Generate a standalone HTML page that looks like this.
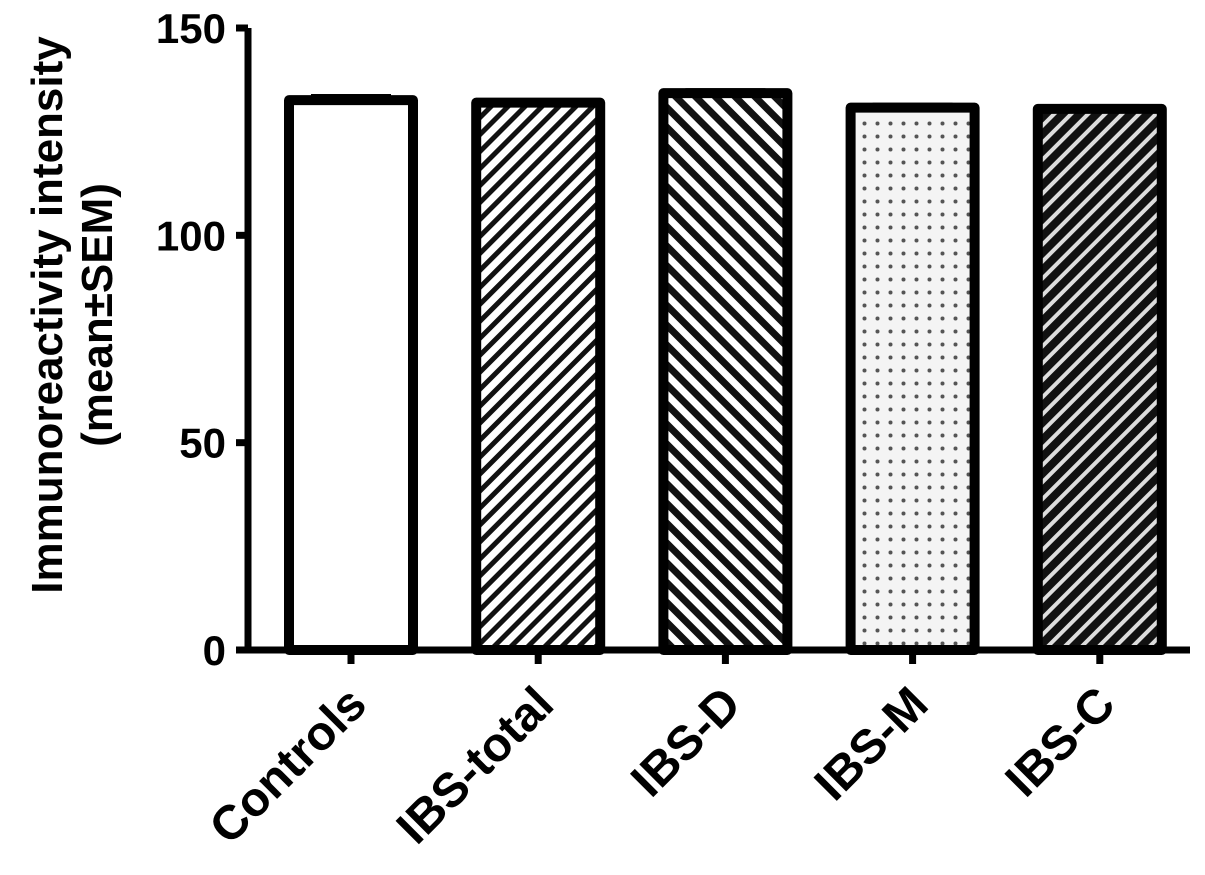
<!DOCTYPE html>
<html><head><meta charset="utf-8"><style>
html,body{margin:0;padding:0;background:#fff;}
svg text{font-family:"Liberation Sans",Arial,sans-serif;font-weight:bold;fill:#000;}
</style></head><body>
<svg id="chart" width="1205" height="870" viewBox="0 0 1205 870" xmlns="http://www.w3.org/2000/svg">
<defs>
<pattern id="p-total" patternUnits="userSpaceOnUse" width="12" height="12" patternTransform="rotate(45)"><rect width="12" height="12" fill="#fff"/><rect width="5" height="12" fill="#111"/></pattern>
<pattern id="p-d" patternUnits="userSpaceOnUse" width="14" height="14" patternTransform="rotate(-45)"><rect width="14" height="14" fill="#fff"/><rect width="7" height="14" fill="#111"/></pattern>
<pattern id="p-m" patternUnits="userSpaceOnUse" width="13" height="13"><rect width="13" height="13" fill="#f4f4f4"/><circle cx="6.5" cy="6.5" r="2" fill="#555"/></pattern>
<pattern id="p-c" patternUnits="userSpaceOnUse" width="12" height="12" patternTransform="rotate(45)"><rect width="12" height="12" fill="#ddd"/><rect width="8" height="12" fill="#111"/></pattern>
</defs>
<g id="bars"></g>
<g id="axes"></g>
<text transform="translate(62,315) rotate(-90)" text-anchor="middle" font-size="44">Immunoreactivity intensity</text>
<text transform="translate(112,315) rotate(-90)" text-anchor="middle" font-size="44">(mean±SEM)</text>
</svg>
<script>
const categories = ["Controls","IBS-total","IBS-D","IBS-M","IBS-C"];
const values = [132.6, 132.0, 134.3, 130.8, 130.5];
const errors = [1.0, 0.6, 0.7, 0.7, 0.7];
const yTicks = [0, 50, 100, 150];
const fills = ["#fff","url(#p-total)","url(#p-d)","url(#p-m)","url(#p-c)"];
const NS="http://www.w3.org/2000/svg";
const y0=650, yTop=28, yMax=150;
function yScale(v){return y0-(v/yMax)*(y0-yTop);}
function xScale(i){return 351+i*187.2;}
const barW=124;
const bars=document.getElementById('bars'), axes=document.getElementById('axes');
function mk(tag,attrs,parent){const e=document.createElementNS(NS,tag);for(const k in attrs)e.setAttribute(k,attrs[k]);parent.appendChild(e);return e;}
categories.forEach((c,i)=>{
  const cx=xScale(i), top=yScale(values[i]);
  const r=mk('rect',{x:cx-barW/2,y:top,width:barW,height:y0-top,fill:fills[i],stroke:'#000','stroke-width':10,'stroke-linejoin':'round'},bars);
  
  
  const eh=yScale(values[i]+errors[i]);
  const e=mk('rect',{x:cx-40,y:eh-2,width:80,height:top-eh+4,fill:'#000'},bars);
  
  
  const t=mk('line',{x1:cx,y1:y0,x2:cx,y2:y0+14,stroke:'#000','stroke-width':7},axes);
  
  
  const lb=mk('text',{transform:`translate(${cx+18},${y0+57}) rotate(-45)`,'text-anchor':'end','font-size':48},axes);
  lb.textContent=c;
  
  
});
const ya=mk('line',{x1:248,y1:yTop,x2:248,y2:y0+3,stroke:'#000','stroke-width':7},axes);


const xa=mk('line',{x1:236,y1:y0,x2:1190,y2:y0,stroke:'#000','stroke-width':7},axes);


yTicks.forEach(v=>{
  const y=yScale(v);
  const t=mk('line',{x1:236,y1:y,x2:248,y2:y,stroke:'#000','stroke-width':7},axes);
  
  
  const l=mk('text',{x:226,y:y+15,'text-anchor':'end','font-size':42},axes);
  l.textContent=v;
  
  
});
</script>
</body></html>
